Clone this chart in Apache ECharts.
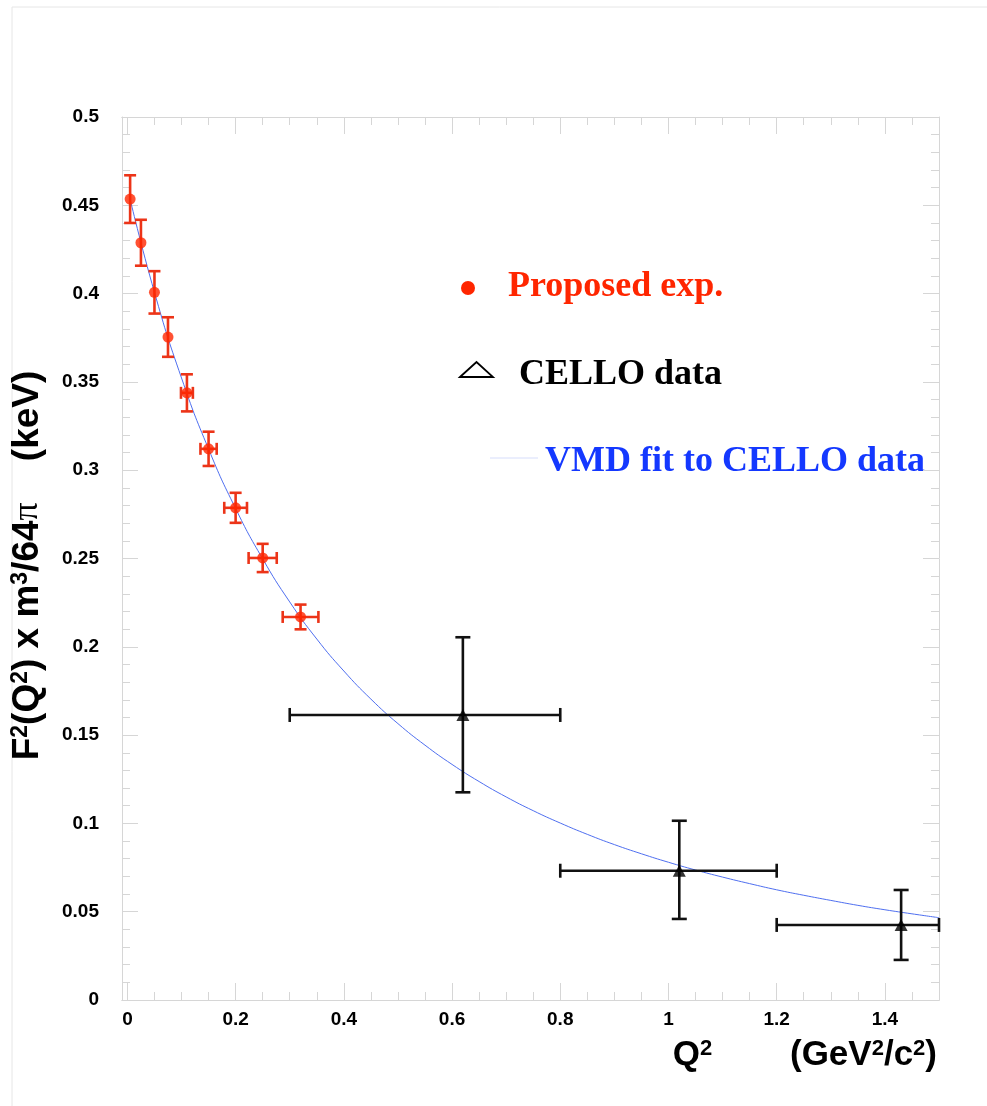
<!DOCTYPE html>
<html>
<head>
<meta charset="utf-8">
<script src="https://cdn.jsdelivr.net/npm/echarts@6/dist/echarts.min.js"></script>
<style>
  html, body { margin: 0; padding: 0; background: #ffffff; }
  #chart { width: 987px; height: 1106px; }
</style>
</head>
<body>
<div id="chart"></div>
<script>
// Proposed measurement (red): Q^2, value, half-widths in Q^2 and in value
const redQ2 = [0.005, 0.025, 0.05, 0.075, 0.11, 0.15, 0.20, 0.25, 0.32];
const redF = [0.4535, 0.4288, 0.4007, 0.3754, 0.3438, 0.3121, 0.2787, 0.2503, 0.2169];
const redQ2Err = [0, 0, 0, 0, 0.011, 0.015, 0.021, 0.026, 0.033];
const redFErr = [0.0135, 0.013, 0.012, 0.0112, 0.0105, 0.0097, 0.0085, 0.008, 0.007];

// CELLO data (black triangles): centre, bin edges, error bar ends
const celloQ2 = [0.62, 1.02, 1.43];
const celloF = [0.1614, 0.0732, 0.0425];
const celloQ2Low = [0.30, 0.80, 1.20];
const celloQ2High = [0.80, 1.20, 1.50];
const celloFLow = [0.1176, 0.0459, 0.0227];
const celloFHigh = [0.2054, 0.1015, 0.0623];

// VMD fit curve samples
const curveQ2 = [0.005, 0.05, 0.10, 0.15, 0.20, 0.25, 0.30, 0.35, 0.40, 0.45, 0.50,
  0.55, 0.60, 0.65, 0.70, 0.75, 0.80, 0.85, 0.90, 0.95, 1.00,
  1.05, 1.10, 1.15, 1.20, 1.25, 1.30, 1.35, 1.40, 1.45, 1.50];
const curveF = [0.4535, 0.4007, 0.3522, 0.3120, 0.2783, 0.2498, 0.2254, 0.2044, 0.1863, 0.1704, 0.1565,
  0.1443, 0.1334, 0.1237, 0.1150, 0.1072, 0.1002, 0.0938, 0.0880, 0.0828, 0.0780,
  0.0736, 0.0696, 0.0659, 0.0624, 0.0593, 0.0564, 0.0536, 0.0511, 0.0488, 0.0466];

// Axis ticks
const xMajorTicks = [0, 0.2, 0.4, 0.6, 0.8, 1, 1.2, 1.4];
const xMinorTicks = [0.05, 0.1, 0.15, 0.25, 0.3, 0.35, 0.45, 0.5, 0.55, 0.65, 0.7, 0.75,
  0.85, 0.9, 0.95, 1.05, 1.1, 1.15, 1.25, 1.3, 1.35, 1.45];

const X_MIN = -0.01, X_MAX = 1.5;
const Y_MIN = 0, Y_MAX = 0.5, Y_STEP = 0.05;

const FRAME = '#d6d6d6';
const RED = '#ff2600';
const RED_BAR = '#ec3418';
const BLACK = '#111111';
const SANS = '"Liberation Sans", Arial, sans-serif';
const SERIF = '"Liberation Serif", "Times New Roman", serif';

const chart = echarts.init(document.getElementById('chart'), null, { renderer: 'canvas' });

function xAxisDef(position, ticks, len, withLabels) {
  return {
    type: 'value', position: position, min: X_MIN, max: X_MAX,
    axisLine: { show: true, onZero: false, lineStyle: { color: FRAME, width: 1 } },
    axisTick: { show: true, inside: true, length: len, customValues: ticks,
      lineStyle: { color: FRAME, width: 1 } },
    axisLabel: withLabels ? {
      show: true, customValues: ticks, margin: 10,
      color: '#000', fontFamily: SANS, fontWeight: 'bold', fontSize: 19
    } : { show: false },
    splitLine: { show: false }
  };
}

function yAxisDef(position, withLabels) {
  return {
    type: 'value', position: position, min: Y_MIN, max: Y_MAX, interval: Y_STEP,
    axisLine: { show: true, onZero: false, lineStyle: { color: FRAME, width: 1 } },
    axisTick: { show: true, inside: true, length: 16, lineStyle: { color: FRAME, width: 1 } },
    minorTick: { show: true, splitNumber: 5, length: 8, lineStyle: { color: FRAME, width: 1 } },
    axisLabel: withLabels ? {
      show: true, margin: 23, color: '#000',
      fontFamily: SANS, fontWeight: 'bold', fontSize: 19
    } : { show: false },
    splitLine: { show: false },
    minorSplitLine: { show: false }
  };
}

// Rich styles for titles with raised exponents
function titleRich(size) {
  return {
    m: { fontFamily: SANS, fontWeight: 'bold', fontSize: size, lineHeight: size, color: '#000' },
    s: { fontFamily: SANS, fontWeight: 'bold', fontSize: Math.round(size * 0.63), lineHeight: 7,
      verticalAlign: 'top', color: '#000' },
    pi: { fontFamily: SERIF, fontWeight: 'normal', fontSize: size - 1, lineHeight: size, color: '#000' }
  };
}

const xBottom = xAxisDef('bottom', xMajorTicks, 17, true);
xBottom.name = '{m|Q}{s|2}{m|        (GeV}{s|2}{m|/c}{s|2}{m|)}';
xBottom.nameLocation = 'end';
xBottom.nameGap = -2;
xBottom.nameTextStyle = {
  color: '#000', fontFamily: SANS, fontWeight: 'bold', fontSize: 35,
  align: 'right', verticalAlign: 'top', padding: [38, 0, 0, 0],
  rich: titleRich(35)
};

const yLeft = yAxisDef('left', true);
yLeft.name = '{m|F}{s|2}{m|(Q}{s|2}{m|) x m}{s|3}{m|/64}{pi|\u03C0}{m|    (keV)}';
yLeft.nameLocation = 'middle';
yLeft.nameRotate = 90;
yLeft.nameGap = 76;
yLeft.nameTextStyle = {
  color: '#000', fontFamily: SANS, fontWeight: 'bold', fontSize: 37,
  padding: [0, 14, 0, 0],
  rich: titleRich(37)
};

// Error bars drawn through the axis scales
function redBars(params, api) {
  const x = api.value(0), y = api.value(1), ex = api.value(2), ey = api.value(3);
  const c = api.coord([x, y]);
  const top = api.coord([x, y + ey]);
  const bot = api.coord([x, y - ey]);
  const st = { stroke: RED_BAR, lineWidth: 2.6 };
  const kids = [
    { type: 'line', shape: { x1: c[0], y1: top[1], x2: c[0], y2: bot[1] }, style: st },
    { type: 'line', shape: { x1: c[0] - 6, y1: top[1], x2: c[0] + 6, y2: top[1] }, style: st },
    { type: 'line', shape: { x1: c[0] - 6, y1: bot[1], x2: c[0] + 6, y2: bot[1] }, style: st }
  ];
  if (ex > 0) {
    const l = api.coord([x - ex, y]);
    const r = api.coord([x + ex, y]);
    kids.push(
      { type: 'line', shape: { x1: l[0], y1: c[1], x2: r[0], y2: c[1] }, style: st },
      { type: 'line', shape: { x1: l[0], y1: c[1] - 6, x2: l[0], y2: c[1] + 6 }, style: st },
      { type: 'line', shape: { x1: r[0], y1: c[1] - 6, x2: r[0], y2: c[1] + 6 }, style: st }
    );
  }
  return { type: 'group', children: kids };
}

function celloBars(params, api) {
  const x = api.value(0), y = api.value(1);
  const xl = api.value(2), xh = api.value(3), yl = api.value(4), yh = api.value(5);
  const c = api.coord([x, y]);
  const top = api.coord([x, yh]);
  const bot = api.coord([x, yl]);
  const l = api.coord([xl, y]);
  const r = api.coord([xh, y]);
  const st = { stroke: BLACK, lineWidth: 2.6 };
  return {
    type: 'group',
    children: [
      { type: 'line', shape: { x1: c[0], y1: top[1], x2: c[0], y2: bot[1] }, style: st },
      { type: 'line', shape: { x1: c[0] - 7.5, y1: top[1], x2: c[0] + 7.5, y2: top[1] }, style: st },
      { type: 'line', shape: { x1: c[0] - 7.5, y1: bot[1], x2: c[0] + 7.5, y2: bot[1] }, style: st },
      { type: 'line', shape: { x1: l[0], y1: c[1], x2: r[0], y2: c[1] }, style: st },
      { type: 'line', shape: { x1: l[0], y1: c[1] - 7, x2: l[0], y2: c[1] + 7 }, style: st },
      { type: 'line', shape: { x1: r[0], y1: c[1] - 7, x2: r[0], y2: c[1] + 7 }, style: st }
    ]
  };
}

const redData = redQ2.map((q, i) => [q, redF[i], redQ2Err[i], redFErr[i]]);
const celloData = celloQ2.map((q, i) => [q, celloF[i], celloQ2Low[i], celloQ2High[i], celloFLow[i], celloFHigh[i]]);
const curveData = curveQ2.map((q, i) => [q, curveF[i]]);

const option = {
  backgroundColor: '#ffffff',
  animation: false,
  grid: { left: 122, top: 117, width: 817, height: 883, containLabel: false, outerBoundsMode: 'none' },
  xAxis: [
    xBottom,
    xAxisDef('bottom', xMinorTicks, 8, false),
    xAxisDef('top', xMajorTicks, 17, false),
    xAxisDef('top', xMinorTicks, 8, false)
  ],
  yAxis: [
    yLeft,
    yAxisDef('right', false)
  ],
  graphic: [
    { type: 'line', shape: { x1: 12, y1: 7, x2: 987, y2: 7 }, style: { stroke: '#e6e6e6', lineWidth: 1 }, silent: true },
    { type: 'line', shape: { x1: 12, y1: 7, x2: 12, y2: 1106 }, style: { stroke: '#e6e6e6', lineWidth: 1 }, silent: true },
    // key
    { type: 'circle', shape: { cx: 468, cy: 288, r: 7 }, style: { fill: RED } },
    { type: 'text', x: 508, y: 287, style: { text: 'Proposed exp.', fill: RED, fontFamily: SERIF,
      fontWeight: 'bold', fontSize: 36, verticalAlign: 'middle', align: 'left' } },
    { type: 'polygon', shape: { points: [[460, 377], [476.5, 362], [493, 377]] },
      style: { fill: 'none', stroke: '#000', lineWidth: 1.8 } },
    { type: 'text', x: 519, y: 375, style: { text: 'CELLO data', fill: '#000', fontFamily: SERIF,
      fontWeight: 'bold', fontSize: 36, verticalAlign: 'middle', align: 'left' } },
    { type: 'line', shape: { x1: 490, y1: 458, x2: 538, y2: 458 }, style: { stroke: '#d6ddfb', lineWidth: 1 } },
    { type: 'text', x: 545, y: 462, style: { text: 'VMD fit to CELLO data', fill: '#1438ff', fontFamily: SERIF,
      fontWeight: 'bold', fontSize: 36, verticalAlign: 'middle', align: 'left' } }
  ],
  series: [
    {
      name: 'VMD fit to CELLO data', type: 'line', data: curveData, smooth: true,
      showSymbol: false, xAxisIndex: 0, yAxisIndex: 0,
      lineStyle: { color: '#4f6ff0', width: 1 }, z: 2
    },
    {
      name: 'CELLO errors', type: 'custom', data: celloData, renderItem: celloBars,
      encode: { x: 0, y: 1 }, xAxisIndex: 0, yAxisIndex: 0, clip: false, z: 3
    },
    {
      name: 'CELLO data', type: 'scatter', data: celloQ2.map((q, i) => [q, celloF[i]]),
      symbol: 'triangle', symbolSize: [13, 12], itemStyle: { color: '#000' },
      xAxisIndex: 0, yAxisIndex: 0, z: 4
    },
    {
      name: 'Proposed errors', type: 'custom', data: redData, renderItem: redBars,
      encode: { x: 0, y: 1 }, xAxisIndex: 0, yAxisIndex: 0, clip: false, z: 3
    },
    {
      name: 'Proposed exp.', type: 'scatter', data: redQ2.map((q, i) => [q, redF[i]]),
      symbol: 'circle', symbolSize: 11, itemStyle: { color: RED },
      xAxisIndex: 0, yAxisIndex: 0, z: 4
    }
  ]
};

chart.setOption(option);
</script>
</body>
</html>
